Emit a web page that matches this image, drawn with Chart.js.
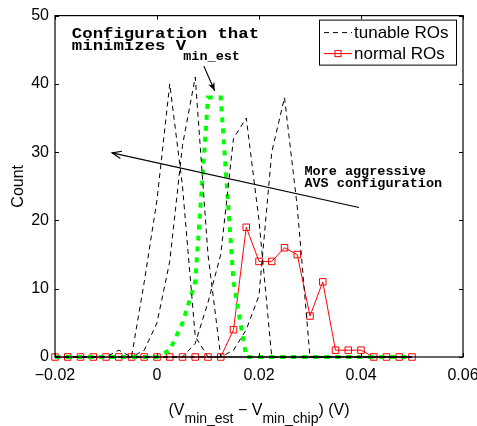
<!DOCTYPE html>
<html>
<head>
<meta charset="utf-8">
<script src="https://cdn.jsdelivr.net/npm/chart.js@4.4.1/dist/chart.umd.min.js"></script>
<style>
  html, body { margin: 0; padding: 0; background: #fff; }
  #wrap { width: 477px; height: 426px; position: relative; }
</style>
</head>
<body>
<div id="wrap"><canvas id="chart"></canvas></div>
<script>
// ---------- Data ----------
// bin centres (V_min_est - V_min_chip), in V
const vDiff = [-0.02, -0.0175, -0.015, -0.0125, -0.01, -0.0075, -0.005, -0.0025, 0, 0.0025,
  0.005, 0.0075, 0.01, 0.0125, 0.015, 0.0175, 0.02, 0.0225, 0.025, 0.0275,
  0.03, 0.0325, 0.035, 0.0375, 0.04, 0.0425, 0.045, 0.0475, 0.05];

// tunable RO configurations (counts per bin)
const tunable1 = [0,0,0,0,0,1,0,11,23,40,25,3,0,0,0,0,0,0,0,0,0,0,0,0,0,0,0,0,0];
const tunable2 = [0,0,0,0,0,0,0,1,5,14,31,41,15,0,0,0,0,0,0,0,0,0,0,0,0,0,0,0,0];
const tunableBest = [0,0,0,0,0,0,0,0,0,1,5,11,38,38,11,0,0,0,0,0,0,0,0,0,0,0,0,0,0];
const tunable3 = [0,0,0,0,0,0,0,0,0,0,0,2,8,15,32,35,20,0,0,0,0,0,0,0,0,0,0,0,0];
const tunable4 = [0,0,0,0,0,0,0,0,0,0,0,0,0,0,1,4,9,30,38,22,0,0,0,0,0,0,0,0,0];

// normal ROs
const normalRO = [0,0,0,0,0,0,0,0,0,0,0,0,0,0,4,19,14,14,16,15,6,11,1,1,1,0,0,0,0];

const xTicks = [-0.02, 0, 0.02, 0.04, 0.06];
const yTicks = [0, 10, 20, 30, 40, 50];

const legendLabels = ["tunable ROs", "normal ROs"];

// ---------- Helpers ----------
function toPoints(values) {
  return values.map((v, i) => ({ x: vDiff[i], y: v }));
}

function fmtX(v) {
  const r = Math.round(v * 100) / 100;
  if (r === 0) return "0";
  return (r < 0 ? "\u2212" : "") + Math.abs(r).toFixed(2);
}

const MONO = "'Liberation Mono', 'DejaVu Sans Mono', monospace";

// courier-like text: short glyphs, wide advance
function wideText(ctx, text, x, y, size, charW) {
  ctx.save();
  ctx.font = "bold " + size + "px " + MONO;
  const natural = ctx.measureText(text).width / text.length;
  const k = charW / natural;
  ctx.translate(x, y);
  ctx.scale(k, 1);
  ctx.fillText(text, 0, 0);
  ctx.restore();
  return charW * text.length;
}

function arrow(ctx, x1, y1, x2, y2, len, filled) {
  const a = Math.atan2(y2 - y1, x2 - x1);
  const spread = 0.38;
  ctx.beginPath();
  ctx.moveTo(x1, y1);
  ctx.lineTo(x2, y2);
  ctx.stroke();
  const lx = x2 - len * Math.cos(a - spread), ly = y2 - len * Math.sin(a - spread);
  const rx = x2 - len * Math.cos(a + spread), ry = y2 - len * Math.sin(a + spread);
  ctx.beginPath();
  if (filled) {
    const mx = x2 - len * 0.65 * Math.cos(a), my = y2 - len * 0.65 * Math.sin(a);
    ctx.moveTo(x2, y2);
    ctx.lineTo(lx, ly);
    ctx.lineTo(mx, my);
    ctx.lineTo(rx, ry);
    ctx.closePath();
    ctx.fill();
  } else {
    ctx.moveTo(lx, ly);
    ctx.lineTo(x2, y2);
    ctx.lineTo(rx, ry);
    ctx.stroke();
  }
}

// ---------- Extras: frame, inward ticks, legend, notes ----------
const extras = {
  id: "extras",
  afterDraw(chart) {
    const ctx = chart.ctx;
    const a = chart.chartArea;
    const xs = chart.scales.x, ys = chart.scales.y;
    ctx.save();

    // frame
    ctx.strokeStyle = "#000";
    ctx.lineWidth = 1.2;
    ctx.setLineDash([]);
    ctx.strokeRect(a.left, a.top, a.right - a.left, a.bottom - a.top);

    // inward ticks on all sides
    ctx.lineWidth = 1;
    ctx.beginPath();
    xTicks.forEach(v => {
      const px = Math.round(xs.getPixelForValue(v)) + 0.5;
      ctx.moveTo(px, a.bottom); ctx.lineTo(px, a.bottom - 4);
      ctx.moveTo(px, a.top); ctx.lineTo(px, a.top + 4);
    });
    yTicks.forEach(v => {
      const py = Math.round(ys.getPixelForValue(v)) + 0.5;
      ctx.moveTo(a.left, py); ctx.lineTo(a.left + 4, py);
      ctx.moveTo(a.right, py); ctx.lineTo(a.right - 4, py);
    });
    ctx.stroke();

    // legend box (top right, inside axes)
    const lx = a.right - 144, ly = a.top + 4, lw = 137, lh = 45;
    ctx.fillStyle = "#fff";
    ctx.fillRect(lx, ly, lw, lh);
    ctx.strokeStyle = "#000";
    ctx.lineWidth = 1;
    ctx.strokeRect(lx + 0.5, ly + 0.5, lw, lh);
    ctx.font = "17px 'Liberation Sans', Arial, sans-serif";
    ctx.textBaseline = "middle";
    ctx.textAlign = "left";
    ctx.setLineDash([5, 4]);
    ctx.beginPath();
    ctx.moveTo(lx + 5, ly + 13); ctx.lineTo(lx + 33, ly + 13);
    ctx.stroke();
    ctx.setLineDash([]);
    ctx.fillStyle = "#000";
    ctx.fillText(legendLabels[0], lx + 35, ly + 14);
    ctx.strokeStyle = "#ff0000";
    ctx.beginPath();
    ctx.moveTo(lx + 5, ly + 34); ctx.lineTo(lx + 33, ly + 34);
    ctx.stroke();
    ctx.strokeRect(lx + 16, ly + 31, 6, 6);
    ctx.fillText(legendLabels[1], lx + 35, ly + 35);

    // annotations (placed in data units)
    ctx.fillStyle = "#000";
    ctx.strokeStyle = "#000";
    ctx.textBaseline = "alphabetic";
    const tx = xs.getPixelForValue(-0.0167);
    wideText(ctx, "Configuration that", tx, ys.getPixelForValue(46.7), 15, 10.4);
    const line2y = ys.getPixelForValue(45.0);
    const w2 = wideText(ctx, "minimizes V", tx, line2y, 15, 10.4);
    wideText(ctx, "min_est", tx + w2 - 3, line2y + 10, 12, 8.1);

    ctx.lineWidth = 1.2;
    arrow(ctx, xs.getPixelForValue(0.0092), ys.getPixelForValue(42.6),
      xs.getPixelForValue(0.0113), ys.getPixelForValue(39.0), 9, true);

    const mx = xs.getPixelForValue(0.0289);
    wideText(ctx, "More aggressive", mx, ys.getPixelForValue(26.7), 12, 8.1);
    wideText(ctx, "AVS configuration", mx, ys.getPixelForValue(24.9), 12, 8.1);
    arrow(ctx, xs.getPixelForValue(0.0396), ys.getPixelForValue(21.9),
      xs.getPixelForValue(-0.0088), ys.getPixelForValue(29.9), 10, false);

    // x-axis title with subscripts
    const parts = [
      ["(V", 16, 0], ["min_est", 14, 8], [" \u2212 V", 16, 0],
      ["min_chip", 14, 8], [") (V)", 16, 0]
    ];
    const sans = "'Liberation Sans', Arial, sans-serif";
    let total = 0;
    parts.forEach(p => { ctx.font = p[1] + "px " + sans; total += ctx.measureText(p[0]).width; });
    let cx = (a.left + a.right) / 2 - total / 2;
    const base = a.bottom + 58;
    parts.forEach(p => {
      ctx.font = p[1] + "px " + sans;
      ctx.fillText(p[0], cx, base + p[2]);
      cx += ctx.measureText(p[0]).width;
    });

    ctx.restore();
  }
};

// ---------- Chart ----------
function initChart() {
  const canvas = document.getElementById("chart");
  const tickFont = { family: "'Liberation Sans', Arial, sans-serif", size: 16 };

  const dashed = (data) => ({
    data: toPoints(data),
    borderColor: "#000",
    borderWidth: 1,
    borderDash: [5, 4],
    pointRadius: 0,
    fill: false,
    tension: 0,
    clip: false
  });

  new Chart(canvas, {
    type: "line",
    data: {
      datasets: [
        dashed(tunable1),
        dashed(tunable2),
        dashed(tunable3),
        dashed(tunable4),
        {
          data: toPoints(tunableBest),
          borderColor: "#00ff00",
          borderWidth: 4,
          borderDash: [5, 6],
          pointRadius: 0,
          fill: false,
          clip: false
        },
        {
          data: toPoints(normalRO),
          borderColor: "#ff0000",
          borderWidth: 1,
          pointStyle: "rect",
          pointRadius: 4.6,
          pointBorderWidth: 1,
          pointBorderColor: "#ff0000",
          pointBackgroundColor: "rgba(0,0,0,0)",
          fill: false,
          clip: false
        }
      ]
    },
    options: {
      responsive: true,
      maintainAspectRatio: false,
      animation: false,
      events: [],
      layout: { padding: { left: 0, right: 14, top: 13, bottom: 0 } },
      plugins: {
        legend: { display: false },
        tooltip: { enabled: false }
      },
      scales: {
        x: {
          type: "linear",
          min: -0.02,
          max: 0.06,
          afterBuildTicks: s => { s.ticks = xTicks.map(v => ({ value: v })); },
          afterFit: s => { s.height = 69; s.paddingLeft = 0; s.paddingRight = 0; },
          grid: { display: false, drawTicks: false },
          border: { display: false },
          ticks: {
            color: "#000",
            font: tickFont,
            padding: 9,
            maxRotation: 0,
            autoSkip: false,
            callback: v => fmtX(v)
          }
        },
        y: {
          min: 0,
          max: 50,
          afterBuildTicks: s => { s.ticks = yTicks.map(v => ({ value: v })); },
          afterFit: s => { s.width = 55; },
          grid: { display: false, drawTicks: false },
          border: { display: false },
          ticks: { color: "#000", font: tickFont, padding: 6 },
          title: {
            display: true,
            text: "Count",
            color: "#000",
            font: tickFont,
            padding: { top: 9, bottom: 0 }
          }
        }
      }
    },
    plugins: [extras]
  });
}

window.addEventListener("load", () => {
  initChart();
});
</script>
</body>
</html>
